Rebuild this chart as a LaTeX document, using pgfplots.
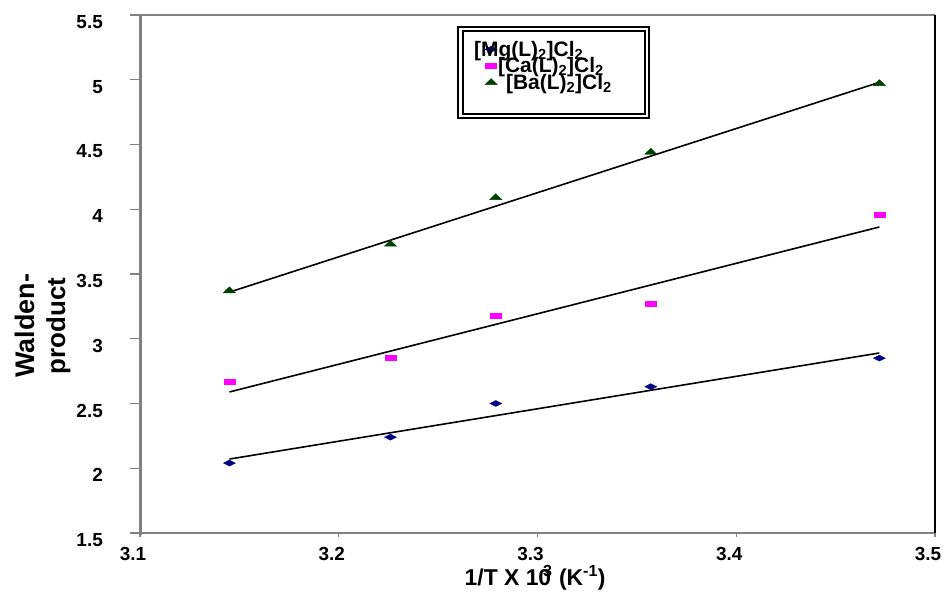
\documentclass[border=0pt]{standalone}
\usepackage{fontspec}
\setmainfont{Liberation Sans}
\usepackage{pgfplots}
\pgfplotsset{compat=1.18}
\definecolor{mgc}{RGB}{0,0,128}
\definecolor{cac}{RGB}{255,0,255}
\definecolor{bac}{RGB}{0,64,0}
\definecolor{axg}{RGB}{128,128,128}
\begin{document}
\begin{tikzpicture}
\useasboundingbox (0bp,0bp) rectangle (948bp,597bp);
\begin{axis}[
  at={(140bp,64bp)}, anchor=south west,
  scale only axis, width=795bp, height=518bp,
  xmin=3.1, xmax=3.5, ymin=1.5, ymax=5.5,
  xtick={3.1,3.2,3.3,3.4,3.5}, ytick={1.5,2,2.5,3,3.5,4,4.5,5,5.5},
  xtick pos=bottom, ytick pos=left,
  axis line style={draw=none},
  tick align=outside, major tick length=10bp,
  ytick style={axg, line width=1.2bp},
  xtick style={draw=none},
  /pgf/number format/assume math mode=true,
  ticklabel style={font=\fontsize{19}{21}\selectfont\bfseries},
  yticklabel style={anchor=east, inner sep=0pt, xshift=-27bp, yshift=-7bp},
  xticklabel style={anchor=north, inner sep=0pt, xshift=-7bp, yshift=-4bp},
  xlabel={1/T X 10\kern-0.35em\textsuperscript{3} (K\textsuperscript{-1})},
  xlabel style={font=\fontsize{23}{26}\selectfont\bfseries, at={(axis description cs:0.497,-0.087)}, anchor=center},
  ylabel={\fontsize{27}{31}\selectfont Walden-\\\fontsize{26}{31}\selectfont product},
  ylabel style={font=\fontsize{26}{31}\selectfont\bfseries, align=center, at={(axis description cs:-0.1226,0.40)}, anchor=center},
  legend style={at={(0.430,0.956)}, anchor=north west, draw=none, fill=none,
    font=\fontsize{21}{23}\selectfont\bfseries, column sep=0bp, row sep=-2bp,
    nodes={inner sep=1bp}},
  legend cell align=left,
  legend image code/.code={\draw[#1] plot coordinates {(0,0)};},
]
\addplot[only marks, mark=diamond*, mark size=6bp, mgc,
  mark options={xscale=1.33, yscale=0.5, fill=mgc, draw=mgc}]
  coordinates {(3.145,2.04) (3.226,2.24) (3.279,2.50) (3.357,2.63) (3.472,2.85)};
\addlegendentry{\hspace{-24bp}[Mg(L)\textsubscript{2}]Cl\textsubscript{2}}
\addplot[only marks, mark=square*, mark size=5.5bp, cac,
  mark options={yscale=0.45, fill=cac, draw=cac}]
  coordinates {(3.145,2.67) (3.226,2.85) (3.279,3.18) (3.357,3.27) (3.472,3.96)};
\addlegendentry{[Ca(L)\textsubscript{2}]Cl\textsubscript{2}}
\addplot[only marks, mark=triangle*, mark size=7bp, bac,
  mark options={yscale=0.57, fill=bac, draw=bac}]
  coordinates {(3.145,3.37) (3.226,3.73) (3.279,4.09) (3.357,4.44) (3.472,4.97)};
\addlegendentry{\hspace{8bp}[Ba(L)\textsubscript{2}]Cl\textsubscript{2}}
\addplot[black, line width=1.6bp, forget plot] coordinates {(3.145,2.071) (3.472,2.89)};
\addplot[black, line width=1.6bp, forget plot] coordinates {(3.145,2.589) (3.472,3.863)};
\addplot[black, line width=1.6bp, forget plot] coordinates {(3.145,3.36) (3.472,4.98)};
\end{axis}
% frame
\draw[axg, line width=1.5bp] (130bp,64bp) -- (935bp,64bp);
\draw[axg, line width=2.5bp] (130bp,582bp) -- (935bp,582bp);
\draw[black, line width=1.5bp] (935bp,582bp) -- (935bp,64bp);
\draw[axg, line width=3bp] (140bp,582bp) -- (140bp,62bp);
\foreach \k in {0,...,4} \draw[axg, line width=1.2bp] ({(140+198.75*\k)*1bp},64bp) -- ++(0bp,-4bp);
% legend box
\draw[black, line width=2.5bp] (458bp,570bp) rectangle (649bp,479bp);
\draw[black, line width=1.2bp] (463bp,566bp) rectangle (645bp,483bp);
\end{tikzpicture}
\end{document}
